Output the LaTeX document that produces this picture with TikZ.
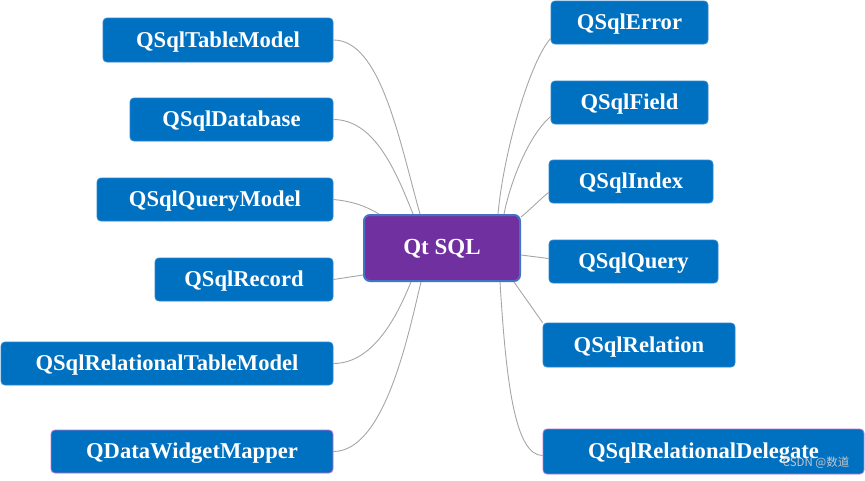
\documentclass[tikz,border=0pt]{standalone}
\usepackage{fontspec}
\setmainfont{Liberation Serif}
\newfontfamily\cjkfont{Noto Sans CJK SC}
\definecolor{boxblue}{HTML}{0070C0}
\definecolor{boxedge}{HTML}{2A86D4}
\definecolor{centerpurple}{HTML}{7030A0}
\definecolor{centeredge}{HTML}{4472C4}
\definecolor{linkgray}{HTML}{A6A6A6}
\definecolor{pinkedge}{HTML}{C070D0}
\tikzset{
  leaf/.style={draw=boxedge, line width=0.8pt, fill=boxblue, rounded corners=4pt,
    text=white, inner sep=0pt, text height=14pt, text depth=0pt,
    font=\fontsize{22.6}{26}\selectfont\bfseries},
  pinkleaf/.style={leaf, draw=pinkedge},
  hub/.style={draw=centeredge, line width=2pt, fill=centerpurple, rounded corners=6pt,
    text=white, inner sep=0pt, text height=13pt, text depth=0pt,
    font=\fontsize{23}{26}\selectfont\bfseries},
  link/.style={draw=linkgray, line width=0.9pt},
}
\newcommand{\leafbox}[7]{% name, style, left, top, right, bottom, text
  \node[#2, minimum width={(#5-#3)*1pt}, minimum height={(#6-#4)*1pt}]
    (#1) at ({(#3+#5)/2},{(#4+#6)/2}) {#7};}
\begin{document}
\begin{tikzpicture}[x=1pt,y=-1pt]
\useasboundingbox (0,0) rectangle (865,480);
% center
\leafbox{c}{hub}{364}{215}{520}{281}{Qt SQL}
% left
\leafbox{l1}{leaf}{103}{18}{333}{62}{QSqlTableModel}
\leafbox{l2}{leaf}{130}{98}{333}{141}{QSqlDatabase}
\leafbox{l3}{leaf}{97}{178}{333}{221}{QSqlQueryModel}
\leafbox{l4}{leaf}{155}{258}{333}{301}{QSqlRecord}
\leafbox{l5}{leaf}{1}{342}{333}{385}{QSqlRelationalTableModel}
\leafbox{l6}{pinkleaf}{51}{430}{333}{473}{QDataWidgetMapper}
% right
\leafbox{r1}{leaf}{551}{1}{708}{44}{QSqlError}
\leafbox{r2}{leaf}{551}{81}{708}{124}{QSqlField}
\leafbox{r3}{leaf}{549}{160}{713}{203}{QSqlIndex}
\leafbox{r4}{leaf}{549}{240}{718}{283}{QSqlQuery}
\leafbox{r5}{leaf}{543}{323}{735}{367}{QSqlRelation}
\leafbox{r6}{pinkleaf}{543}{429}{864}{474}{QSqlRelationalDelegate}
% connectors (left)
\draw[link] (l1.east) .. controls +(47,0) and +(-21,-75) .. ([xshift=57pt]c.north west);
\draw[link] (l2.east) .. controls +(42,0) and +(-16,-40) .. ([xshift=50pt]c.north west);
\draw[link] (l3.east) .. controls +(22,2) and +(-10,-6) .. ([xshift=16pt]c.north west);
\draw[link] (l4.east) -- ([yshift=7pt]c.south west);
\draw[link] (l5.east) .. controls +(42,0) and +(-12,29) .. ([xshift=48pt]c.south west);
\draw[link] (l6.east) .. controls +(52,0) and +(-12,49) .. ([xshift=58pt]c.south west);
% connectors (right)
\draw[link] ([yshift=-16pt]r1.west) .. controls +(-20,22) and +(6,-65) .. ([xshift=135pt]c.north west);
\draw[link] ([yshift=-14pt]r2.west) .. controls +(-21,18) and +(7,-35) .. ([xshift=141pt]c.north west);
\draw[link] ([yshift=-11pt]r3.west) .. controls +(-9,7) and +(10,-8) .. ([yshift=-3pt]c.north east);
\draw[link] ([yshift=-7pt]c.east) -- ([yshift=3pt]r4.west);
\draw[link] ([xshift=-7pt]c.south east) -- (r5.north west);
\draw[link] ([xshift=-21pt]c.south east) .. controls +(6,98) and +(-28,0) .. ([yshift=-4pt]r6.west);
% watermark
\node[text=gray!45, font=\fontsize{11.5}{13}\selectfont\cjkfont, inner sep=0pt] (wm) at (816,463) {CSDN @数道};
\end{tikzpicture}
\end{document}
